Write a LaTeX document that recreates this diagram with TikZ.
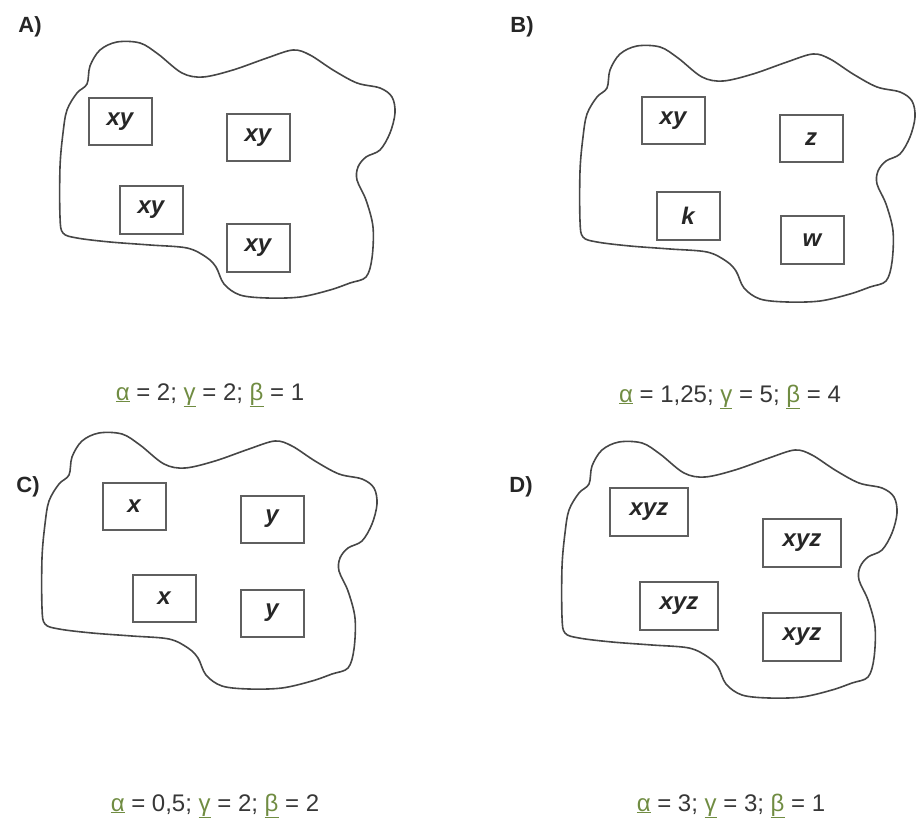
\documentclass[tikz,border=0pt]{standalone}
\usepackage{fontspec}
\setmainfont{Liberation Sans}
\usetikzlibrary{positioning}
\definecolor{blobgray}{RGB}{70,70,70}
\definecolor{boxgray}{RGB}{95,95,95}
\definecolor{greekgr}{RGB}{112,140,66}
\definecolor{txtgray}{RGB}{55,55,55}
\newcommand{\grk}[1]{\textcolor{greekgr}{\underline{#1}}}

\begin{document}
\begin{tikzpicture}[x=1pt, y=-1pt,
    blobline/.style={line width=1.6pt, draw=blobgray, line join=round},
    cellbox/.style={draw=boxgray, line width=2pt, minimum width=63pt,
      minimum height=47pt, inner sep=0pt,
      font=\fontsize{24}{28}\selectfont\bfseries\itshape, text=black!85},
    widebox/.style={cellbox, minimum width=78pt, minimum height=48pt},
    panel/.style={font=\fontsize{22}{26}\selectfont\bfseries, text=black!85},
    ratio/.style={font=\fontsize{24}{28}\selectfont, text=txtgray, anchor=base}]

  \useasboundingbox (0,0) rectangle (918,821);

  % region outline, same shape for A, B, C, D
  \foreach \dx/\dy in {0/0, 520/4, -18/391, 502/400}{
    \draw[blobline, shift={(\dx,\dy)}] plot[smooth cycle, tension=0.55]
      coordinates {(90,66) (100,50) (117,42) (140,43) (158,54) (182,73)
        (203,77) (233,70) (267,58) (293,50) (310,55) (333,70) (357,83)
        (380,88) (392,97) (395,113) (390,133) (380,150) (366,157)
        (358,167) (357,180) (366,200) (373,227) (372,258) (366,277)
        (350,283) (330,290) (300,297) (267,298) (240,295) (224,284)
        (216,267) (206,257) (187,248) (150,245) (110,242) (77,238)
        (63,233) (60,217) (60,167) (63,133) (67,110) (77,93) (87,84)};
  }

  % panel letters
  \node[panel] (labA) at (30,27) {A)};
  \node[panel] (labB) at (522,27) {B)};
  \node[panel] (labC) at (28,487) {C)};
  \node[panel] (labD) at (521,487) {D)};

  % A
  \node[cellbox] (a1) at (120,122) {xy};
  \node[cellbox] (a2) at (258,138) {xy};
  \node[cellbox] (a3) at (151,210) {xy};
  \node[cellbox] (a4) at (258,248) {xy};

  % B
  \node[cellbox] (b1) at (673,121) {xy};
  \node[cellbox] (b2) at (811,139) {z};
  \node[cellbox] (b3) at (688,216) {k};
  \node[cellbox] (b4) at (812,240) {w};

  % C
  \node[cellbox] (c1) at (134,506) {x};
  \node[cellbox] (c2) at (272,519) {y};
  \node[cellbox] (c3) at (164,598) {x};
  \node[cellbox] (c4) at (272,613) {y};

  % D
  \node[widebox] (d1) at (649,512) {xyz};
  \node[widebox] (d2) at (802,543) {xyz};
  \node[widebox] (d3) at (679,606) {xyz};
  \node[widebox] (d4) at (802,637) {xyz};

  % coefficients
  \node[ratio] (ratA) at (210,400) {\grk{α} = 2; \grk{γ} = 2; \grk{β} = 1};
  \node[ratio] (ratB) at (730,402) {\grk{α} = 1,25; \grk{γ} = 5; \grk{β} = 4};
  \node[ratio] (ratC) at (215,811) {\grk{α} = 0,5; \grk{γ} = 2; \grk{β} = 2};
  \node[ratio] (ratD) at (731,811) {\grk{α} = 3; \grk{γ} = 3; \grk{β} = 1};
\end{tikzpicture}
\end{document}
